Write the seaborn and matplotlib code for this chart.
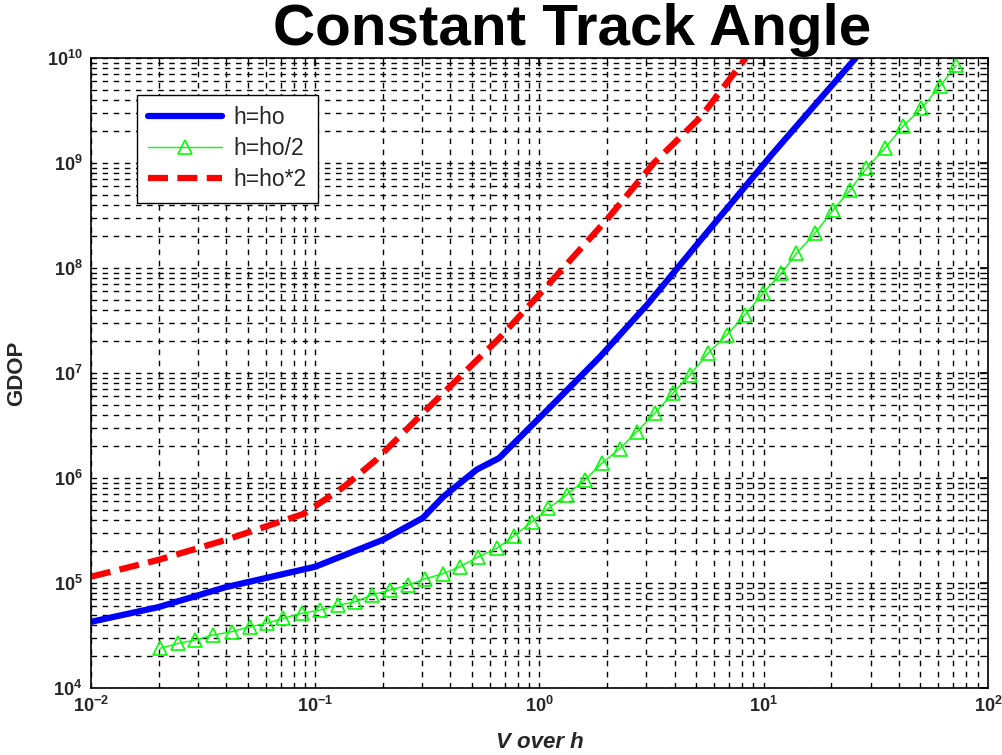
import numpy as np
import pandas as pd
import matplotlib
matplotlib.use("Agg")
import matplotlib.pyplot as plt
import seaborn as sns
from matplotlib.ticker import LogLocator, NullFormatter, FixedLocator

# ---- data (log10 values) ----
blue_log_x = [-2.0, -1.7, -1.4, -1.0, -0.7, -0.52, -0.43, -0.28, -0.18, 0.05, 0.27, 0.48, 0.72, 1.04, 1.41]
blue_log_y = [4.63, 4.77, 4.96, 5.155, 5.41, 5.62, 5.82, 6.08, 6.19, 6.68, 7.155, 7.65, 8.27, 9.09, 10.0]

red_log_x = [-2.0, -1.7, -1.4, -1.05, -0.87, -0.73, -0.5, -0.18, 0.03, 0.30, 0.51, 0.72, 0.92]
red_log_y = [5.06, 5.22, 5.41, 5.66, 5.92, 6.17, 6.66, 7.33, 7.82, 8.46, 9.0, 9.44, 10.0]

green_log_x = [-1.692, -1.611, -1.536, -1.455, -1.373, -1.291, -1.217, -1.143, -1.061, -0.979,
               -0.897, -0.823, -0.749, -0.667, -0.585, -0.511, -0.429, -0.355, -0.273, -0.190,
               -0.113, -0.035, 0.039, 0.121, 0.202, 0.277, 0.358, 0.433, 0.514, 0.596,
               0.670, 0.752, 0.834, 0.915, 0.997, 1.079, 1.146, 1.228, 1.309, 1.384,
               1.458, 1.540, 1.621, 1.703, 1.785, 1.859]
green_log_y = [4.378, 4.425, 4.457, 4.505, 4.536, 4.584, 4.616, 4.664, 4.711, 4.743,
               4.79, 4.82, 4.886, 4.933, 4.98, 5.04, 5.09, 5.155, 5.25, 5.33,
               5.45, 5.58, 5.71, 5.84, 5.98, 6.14, 6.28, 6.44, 6.616, 6.81,
               6.98, 7.19, 7.36, 7.55, 7.76, 7.95, 8.14, 8.33, 8.55, 8.74,
               8.95, 9.14, 9.35, 9.52, 9.73, 9.93]

series_labels = ["h=ho", "h=ho/2", "h=ho*2"]
x_tick_exps = [-2, -1, 0, 1, 2]
y_tick_exps = [4, 5, 6, 7, 8, 9, 10]

blue = pd.DataFrame({"x": np.power(10.0, blue_log_x), "y": np.power(10.0, blue_log_y)})
green = pd.DataFrame({"x": np.power(10.0, green_log_x), "y": np.power(10.0, green_log_y)})
red = pd.DataFrame({"x": np.power(10.0, red_log_x), "y": np.power(10.0, red_log_y)})

sns.set_style("white")
plt.rcParams["font.family"] = ["Liberation Sans", "DejaVu Sans"]
plt.rcParams["mathtext.fontset"] = "custom"
plt.rcParams["mathtext.rm"] = "Liberation Sans"
plt.rcParams["mathtext.bf"] = "Liberation Sans:bold"

fig = plt.figure(figsize=(10.03, 7.55), dpi=100)
ax = fig.add_axes([91 / 1003, (755 - 688) / 755, (988 - 91) / 1003, (688 - 58) / 755])

sns.lineplot(data=blue, x="x", y="y", ax=ax, color=(0, 0, 1), linewidth=4.5,
             label=series_labels[0], sort=False, estimator=None)
sns.lineplot(data=green, x="x", y="y", ax=ax, color=(0, 1, 0), linewidth=1,
             marker="^", markersize=10, markerfacecolor="none", markeredgecolor=(0, 1, 0),
             markeredgewidth=1.2, label=series_labels[1], sort=False, estimator=None)
sns.lineplot(data=red, x="x", y="y", ax=ax, color=(1, 0, 0), linewidth=4.5,
             linestyle=(0, (3.2, 1.5)), label=series_labels[2], sort=False, estimator=None)

ax.set_xscale("log")
ax.set_yscale("log")
ax.set_xlim(1e-2, 1e2)
ax.set_ylim(1e4, 1e10)

ax.xaxis.set_major_locator(FixedLocator([10.0 ** e for e in x_tick_exps]))
ax.yaxis.set_major_locator(FixedLocator([10.0 ** e for e in y_tick_exps]))
ax.set_xticklabels([r"$\mathbf{10^{%d}}$" % e for e in x_tick_exps], fontsize=13)
ax.set_yticklabels([r"$\mathbf{10^{%d}}$" % e for e in y_tick_exps], fontsize=13)
ax.xaxis.set_minor_locator(LogLocator(base=10, subs=np.arange(2, 10), numticks=20))
ax.yaxis.set_minor_locator(LogLocator(base=10, subs=np.arange(2, 10), numticks=20))
ax.xaxis.set_minor_formatter(NullFormatter())
ax.yaxis.set_minor_formatter(NullFormatter())

ax.tick_params(which="both", direction="in", top=True, right=True, color="black")
ax.tick_params(which="major", length=6, width=1.2, pad=6)
ax.tick_params(which="minor", length=3, width=0.8)

ax.grid(True, which="both", color="black", linestyle=(0, (4, 4)), linewidth=1.0)
for s in ax.spines.values():
    s.set_color("black")
    s.set_linewidth(1.2)

ax.set_xlabel("V over h", fontsize=16, fontweight="bold", style="italic", labelpad=11)
ax.set_ylabel("GDOP", fontsize=16, fontweight="bold", labelpad=14)

fig.text(572 / 1003, 1 - 30 / 755, "Constant Track Angle", fontsize=42, fontweight="bold",
         ha="center", va="center", color="black")

leg = ax.legend(loc="upper left", bbox_to_anchor=(46 / 897, 1 - 37 / 630), fontsize=16.5,
                frameon=True, fancybox=False, edgecolor="black", handlelength=3.2,
                borderpad=0.5, labelspacing=0.35, handletextpad=0.5, borderaxespad=0)
leg.get_frame().set_linewidth(1.0)
leg.get_frame().set_alpha(1)

fig.savefig("out.png", dpi=100, facecolor="white")
